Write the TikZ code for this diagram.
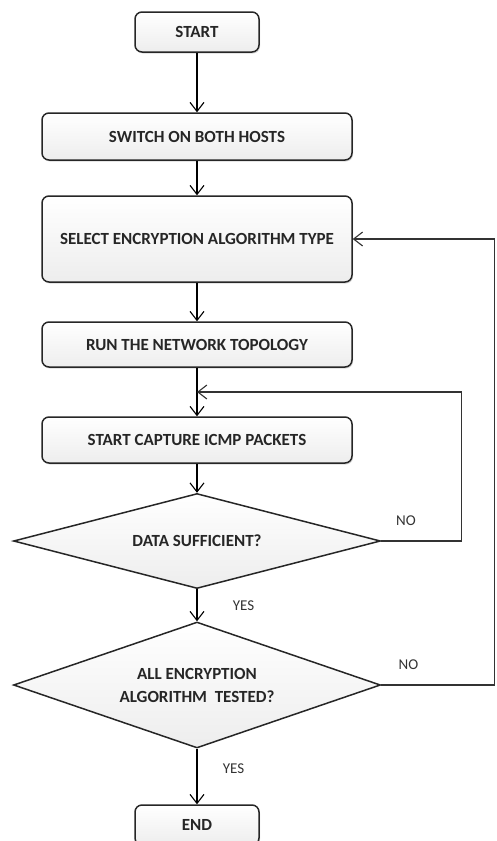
\documentclass[tikz,border=0pt]{standalone}
\usepackage{fontspec}
\setmainfont{Carlito}
\usetikzlibrary{arrows.meta, shapes.geometric, shadows}

\begin{document}
\begin{tikzpicture}[x=1pt, y=-1pt, >={Straight Barb[length=9pt, width=14pt]}, line width=1.1pt,
		box/.style={draw=black!85, line width=1.5pt, rounded corners=7pt, top color=white, bottom color=black!7,
			drop shadow={shadow xshift=1pt, shadow yshift=-1.5pt, opacity=0.3}, inner sep=0pt,
			font=\bfseries\fontsize{17}{20}\selectfont, text=black!85},
		decision/.style={diamond, draw=black!85, line width=1.5pt, top color=white, bottom color=black!7,
			inner sep=0pt, align=center, font=\bfseries\fontsize{17}{23}\selectfont, text=black!85},
		lbl/.style={font=\fontsize{15}{18}\selectfont, text=black!80}]
		\useasboundingbox (0, 0) rectangle (497, 841);

		\node[box, minimum width=124, minimum height=40] (start) at (197, 32) {START};
		\node[box, minimum width=310, minimum height=47] (switch) at (197, 136.5) {SWITCH ON BOTH HOSTS};
		\node[box, minimum width=310, minimum height=86] (select) at (197, 239) {SELECT ENCRYPTION ALGORITHM TYPE};
		\node[box, minimum width=310, minimum height=45] (run) at (197, 344.5) {RUN THE NETWORK TOPOLOGY};
		\node[box, minimum width=310, minimum height=46] (capture) at (197, 440) {START CAPTURE ICMP PACKETS};
		\node[decision, aspect=3.86, minimum width=367, minimum height=95] (suff) at (197, 541) {DATA SUFFICIENT?};
		\node[decision, aspect=2.91, minimum width=367, minimum height=126] (tested) at (197, 685) {ALL ENCRYPTION\\ALGORITHM\ \ TESTED?};
		\node[box, minimum width=124, minimum height=40] (end) at (197, 825) {END};
		\coordinate (join1) at (197, 392);

		\path[->] (start) edge (switch)
			(switch) edge (select)
			(select) edge (run)
			(run) edge (capture)
			(capture) edge (suff)
			(suff) edge node[lbl, right=32pt] {YES} (tested)
			(tested) edge node[lbl, pos=0.35, right=22pt] {YES} (end);

		\draw[->, black!80] (suff.east) -- ++(80, 0) node[lbl, pos=0.31, above=12pt] {NO} |- (join1);
		\draw[->, black!80] (tested.east) -- ++(113.5, 0) node[lbl, pos=0.24, above=12pt] {NO} |- (select.east);
	\end{tikzpicture}
\end{document}
